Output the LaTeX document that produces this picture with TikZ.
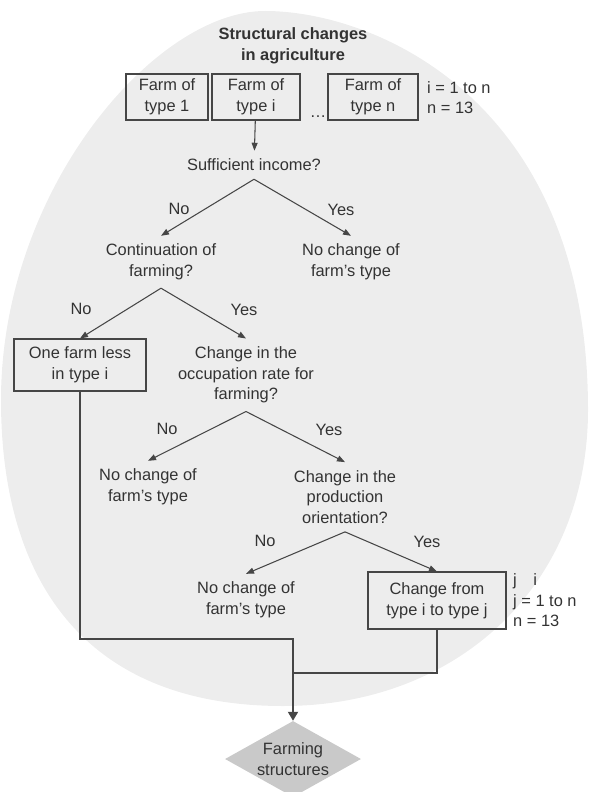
\documentclass[tikz,border=0pt]{standalone}
\usepackage{fontspec}
\setmainfont{Liberation Sans}
\definecolor{ovalgray}{RGB}{237,237,237}
\definecolor{diamondgray}{RGB}{201,201,201}
\definecolor{inkgray}{RGB}{70,70,70}
\definecolor{textgray}{RGB}{51,51,51}
\usetikzlibrary{shapes.geometric,arrows.meta}

\begin{document}
\begin{tikzpicture}[
    x=0.03cm,y=-0.03cm,
    every node/.style={text=textgray,font=\fontsize{14}{17.6}\selectfont},
    txt/.style={align=center,inner xsep=0pt,inner ysep=0.24cm},
    lbl/.style={inner sep=0pt},
    box/.style={draw=inkgray,line width=0.9pt,align=center,inner sep=0pt,minimum height=1.38cm},
    link/.style={draw=inkgray,line width=0.9pt,-{Triangle[length=0.24cm,width=0.18cm]}},
    wire/.style={draw=inkgray,line width=0.9pt},
  ]
  \useasboundingbox (0,0) rectangle (588,792);
  \clip (0,0) rectangle (588,792);

  % grey oval behind the flow
  \fill[ovalgray] (265,11) .. controls (375,11) and (588,100) .. (588,410)
    .. controls (588,585) and (458,706) .. (283,706)
    .. controls (93,706) and (1,590) .. (1,400)
    .. controls (1,190) and (155,11) .. (265,11) -- cycle;

  % farm types
  \node[txt,font=\fontsize{14}{17.6}\selectfont\bfseries] (title) at (293,46) {Structural changes\\in agriculture};
  \node[box,minimum width=2.46cm] (farm1) at (167,97) {Farm of\\type 1};
  \node[box,minimum width=2.64cm] (farmi) at (256,97) {Farm of\\type i};
  \node[lbl,anchor=base] (dots) at (318,118) {\ldots};
  \node[box,minimum width=2.7cm] (farmn) at (373,97) {Farm of\\type n};
  \node[lbl,anchor=west,align=left] (irange) at (427,97.5) {i = 1 to n\\n = 13};

  % decisions
  \node[txt] (income) at (254,165) {Sufficient income?};
  \node[txt] (cont) at (161,262) {Continuation of\\farming?};
  \node[txt] (keep1) at (351,262) {No change of\\farm’s type};
  \node[box,minimum width=3.96cm,minimum height=1.56cm] (less) at (80,365) {One farm less\\in type i};
  \node[txt] (occup) at (246,375) {Change in the\\occupation rate for\\farming?};
  \node[txt] (keep2) at (148,487) {No change of\\farm’s type};
  \node[txt] (orient) at (345,497) {Change in the\\production\\orientation?};
  \node[txt] (keep3) at (246,600) {No change of\\farm’s type};
  \node[box,minimum width=4.14cm,minimum height=1.71cm] (shift) at (437,600.5) {Change from\\type i to type j};
  \node[lbl,anchor=west,align=left] (jrange) at (513,600.5) {j\hspace*{1em}i\\j = 1 to n\\n = 13};

  % answers
  \node[lbl] (no1) at (179,209) {No};
  \node[lbl] (yes1) at (341,210) {Yes};
  \node[lbl] (no2) at (81,309) {No};
  \node[lbl] (yes2) at (244,310) {Yes};
  \node[lbl] (no3) at (167,429) {No};
  \node[lbl] (yes3) at (329,430) {Yes};
  \node[lbl] (no4) at (265,541) {No};
  \node[lbl] (yes4) at (427,542) {Yes};

  % result
  \node[diamond,fill=diamondgray,inner sep=0pt,aspect=1.8,minimum width=4.08cm,minimum height=2.28cm,align=center] (result) at (293,759) {Farming\\structures};
  \coordinate (m1) at (293,639);
  \coordinate (m2) at (293,673);

  \draw[link] (farmi) -- (income);
  \draw[link] (income.south) -- (cont.north);
  \draw[link] (income.south) -- (keep1.north);
  \draw[link] (cont.south) -- (less.north);
  \draw[link] (cont.south) -- (occup.north);
  \draw[link] (occup.south) -- (keep2.north);
  \draw[link] (occup.south) -- (orient.north);
  \draw[link] (orient.south) -- (keep3.north);
  \draw[link] (orient.south) -- (shift.north);
  \draw[wire] (less.south) |- (m1) -- (m2);
  \draw[wire] (shift.south) |- (m2);
  \draw[draw=inkgray,line width=1.6pt,-{Triangle[length=0.27cm,width=0.3cm]}] (m2) -- (result.north);
\end{tikzpicture}
\end{document}
